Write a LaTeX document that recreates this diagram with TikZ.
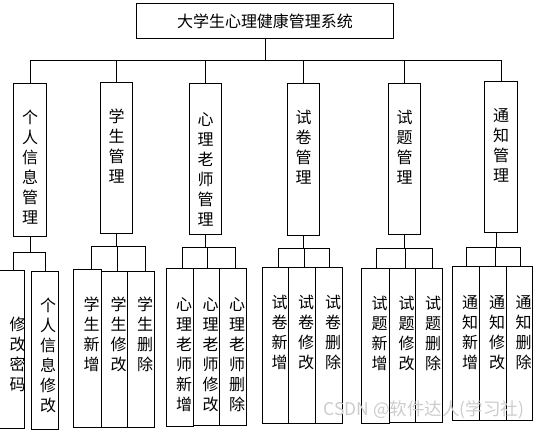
\documentclass[tikz,border=0pt]{standalone}
\usepackage{fontspec}
\setmainfont{Noto Sans CJK SC}
\usetikzlibrary{positioning}

\tikzset{
  box/.style={draw, line width=1pt, inner sep=0pt, anchor=north west},
  vlabel/.style={align=center, inner sep=0pt, anchor=north,
    font=\fontsize{16pt}{20pt}\selectfont},
  link/.style={line width=1pt},
}

\begin{document}
\begin{tikzpicture}[x=1pt,y=-1pt]
        \clip (0,0) rectangle (550,430);
        % root
        \node[box, minimum width=257pt, minimum height=35pt,
          font=\fontsize{16pt}{20pt}\selectfont] (sys) at (136,3) {大学生心理健康管理系统};
        \coordinate (bus) at (0,61);
        % modules
        \node[box, minimum width=33pt, minimum height=153pt] (m1) at (13,83) {};
        \node[box, minimum width=32pt, minimum height=151pt] (m2) at (100,82) {};
        \node[box, minimum width=32pt, minimum height=151pt] (m3) at (189,83) {};
        \node[box, minimum width=32pt, minimum height=152pt] (m4) at (287,83) {};
        \node[box, minimum width=32pt, minimum height=151pt] (m5) at (388,83) {};
        \node[box, minimum width=33pt, minimum height=151pt] (m6) at (484,81) {};
        \node[vlabel, below=27pt of m1.north] (m1t) {个\\人\\信\\息\\管\\理};
        \node[vlabel, below=27pt of m2.north] (m2t) {学\\生\\管\\理};
        \node[vlabel, below=29pt of m3.north] (m3t) {心\\理\\老\\师\\管\\理};
        \node[vlabel, below=27pt of m4.north] (m4t) {试\\卷\\管\\理};
        \node[vlabel, below=27pt of m5.north] (m5t) {试\\题\\管\\理};
        \node[vlabel, below=27pt of m6.north] (m6t) {通\\知\\管\\理};
        \draw[link] (sys.south) -- (sys.south |- bus);
        \draw[link] (m1.north) |- (m6.north |- bus) -- (m6.north);
        \draw[link] (m2.north) -- (m2.north |- bus);
        \draw[link] (m3.north) -- (m3.north |- bus);
        \draw[link] (m4.north) -- (m4.north |- bus);
        \draw[link] (m5.north) -- (m5.north |- bus);

        % leaves of m1
        \node[box, minimum width=28pt, minimum height=158pt] (l11) at (-4,270) {};
        \node[box, minimum width=27pt, minimum height=158pt] (l12) at (31,271) {};
        \node[vlabel, below=47pt of l11.north, xshift=7pt] (l11t) {修\\改\\密\\码};
        \node[vlabel, below=27pt of l12.north, xshift=3pt] (l12t) {个\\人\\信\\息\\修\\改};
        \coordinate (b1) at (0,253);
        \draw[link] (m1.south) -- (m1.south |- b1);
        \draw[link] ([xshift=3pt]l11.north) |- (l12.north |- b1) -- (l12.north);

        % leaves of m2
        \node[box, minimum width=28pt, minimum height=158pt] (l21) at (73,269) {};
        \node[box, minimum width=26pt, minimum height=156pt] (l22) at (101,271) {};
        \node[box, minimum width=27pt, minimum height=156pt] (l23) at (127,271) {};
        \node[vlabel, below=28pt of l21.north, xshift=4pt] (l21t) {学\\生\\新\\增};
        \node[vlabel, below=26pt of l22.north, xshift=4pt] (l22t) {学\\生\\修\\改};
        \node[vlabel, below=26pt of l23.north, xshift=4pt] (l23t) {学\\生\\删\\除};
        \coordinate (b2) at (0,247);
        \draw[link] (m2.south) -- (m2.south |- b2);
        \draw[link] ([xshift=4pt]l21.north) |- ([xshift=4pt]l23.north |- b2) -- ([xshift=4pt]l23.north);
        \draw[link] ([xshift=3pt]l22.north) -- ([xshift=3pt]l22.north |- b2);

        % leaves of m3
        \node[box, minimum width=27pt, minimum height=158pt] (l31) at (166,268) {};
        \node[box, minimum width=26pt, minimum height=157pt] (l32) at (193,268) {};
        \node[box, minimum width=27pt, minimum height=157pt] (l33) at (219,268) {};
        \node[vlabel, below=29pt of l31.north, xshift=4pt] (l31t) {心\\理\\老\\师\\新\\增};
        \node[vlabel, below=29pt of l32.north, xshift=4pt] (l32t) {心\\理\\老\\师\\修\\改};
        \node[vlabel, below=29pt of l33.north, xshift=4pt] (l33t) {心\\理\\老\\师\\删\\除};
        \coordinate (b3) at (0,248);
        \draw[link] (m3.south) -- (m3.south |- b3);
        \draw[link] ([xshift=2pt]l31.north) |- ([xshift=2pt]l33.north |- b3) -- ([xshift=2pt]l33.north);
        \draw[link] ([xshift=1pt]l32.north) -- ([xshift=1pt]l32.north |- b3);

        % leaves of m4
        \node[box, minimum width=26pt, minimum height=156pt] (l41) at (262,267) {};
        \node[box, minimum width=27pt, minimum height=156pt] (l42) at (288,267) {};
        \node[box, minimum width=27pt, minimum height=156pt] (l43) at (315,267) {};
        \node[vlabel, below=28pt of l41.north, xshift=4pt] (l41t) {试\\卷\\新\\增};
        \node[vlabel, below=28pt of l42.north, xshift=4pt] (l42t) {试\\卷\\修\\改};
        \node[vlabel, below=28pt of l43.north, xshift=4pt] (l43t) {试\\卷\\删\\除};
        \coordinate (b4) at (0,249);
        \draw[link] (m4.south) -- (m4.south |- b4);
        \draw[link] ([xshift=3pt]l41.north) |- (l43.north |- b4) -- (l43.north);
        \draw[link] ([xshift=2pt]l42.north) -- ([xshift=2pt]l42.north |- b4);

        % leaves of m5
        \node[box, minimum width=28pt, minimum height=155pt] (l51) at (361,268) {};
        \node[box, minimum width=26pt, minimum height=154pt] (l52) at (389,268) {};
        \node[box, minimum width=27pt, minimum height=154pt] (l53) at (415,268) {};
        \node[vlabel, below=28pt of l51.north, xshift=4pt] (l51t) {试\\题\\新\\增};
        \node[vlabel, below=28pt of l52.north, xshift=4pt] (l52t) {试\\题\\修\\改};
        \node[vlabel, below=28pt of l53.north, xshift=4pt] (l53t) {试\\题\\删\\除};
        \coordinate (b5) at (0,249);
        \draw[link] (m5.south) -- (m5.south |- b5);
        \draw[link] ([xshift=1pt]l51.north) |- ([xshift=3pt]l53.north |- b5) -- ([xshift=3pt]l53.north);
        \draw[link] ([xshift=3pt]l52.north) -- ([xshift=3pt]l52.north |- b5);

        % leaves of m6
        \node[box, minimum width=27pt, minimum height=154pt] (l61) at (452,266) {};
        \node[box, minimum width=27pt, minimum height=154pt] (l62) at (479,266) {};
        \node[box, minimum width=26pt, minimum height=154pt] (l63) at (506,266) {};
        \node[vlabel, below=29pt of l61.north, xshift=4pt] (l61t) {通\\知\\新\\增};
        \node[vlabel, below=29pt of l62.north, xshift=4pt] (l62t) {通\\知\\修\\改};
        \node[vlabel, below=29pt of l63.north, xshift=4pt] (l63t) {通\\知\\删\\除};
        \coordinate (b6) at (0,248);
        \draw[link] ([xshift=-5pt]m6.south) -- ([xshift=-5pt]m6.south |- b6);
        \draw[link] (l61.north) |- ([xshift=1pt]l63.north |- b6) -- ([xshift=1pt]l63.north);
        \draw[link] ([xshift=2pt]l62.north) -- ([xshift=2pt]l62.north |- b6);

        % watermark
        \node[text=gray!40, font=\fontsize{17.5pt}{20pt}\selectfont] (mark) at (424,410) {CSDN @软件达人(学习社)};
\end{tikzpicture}
\end{document}
